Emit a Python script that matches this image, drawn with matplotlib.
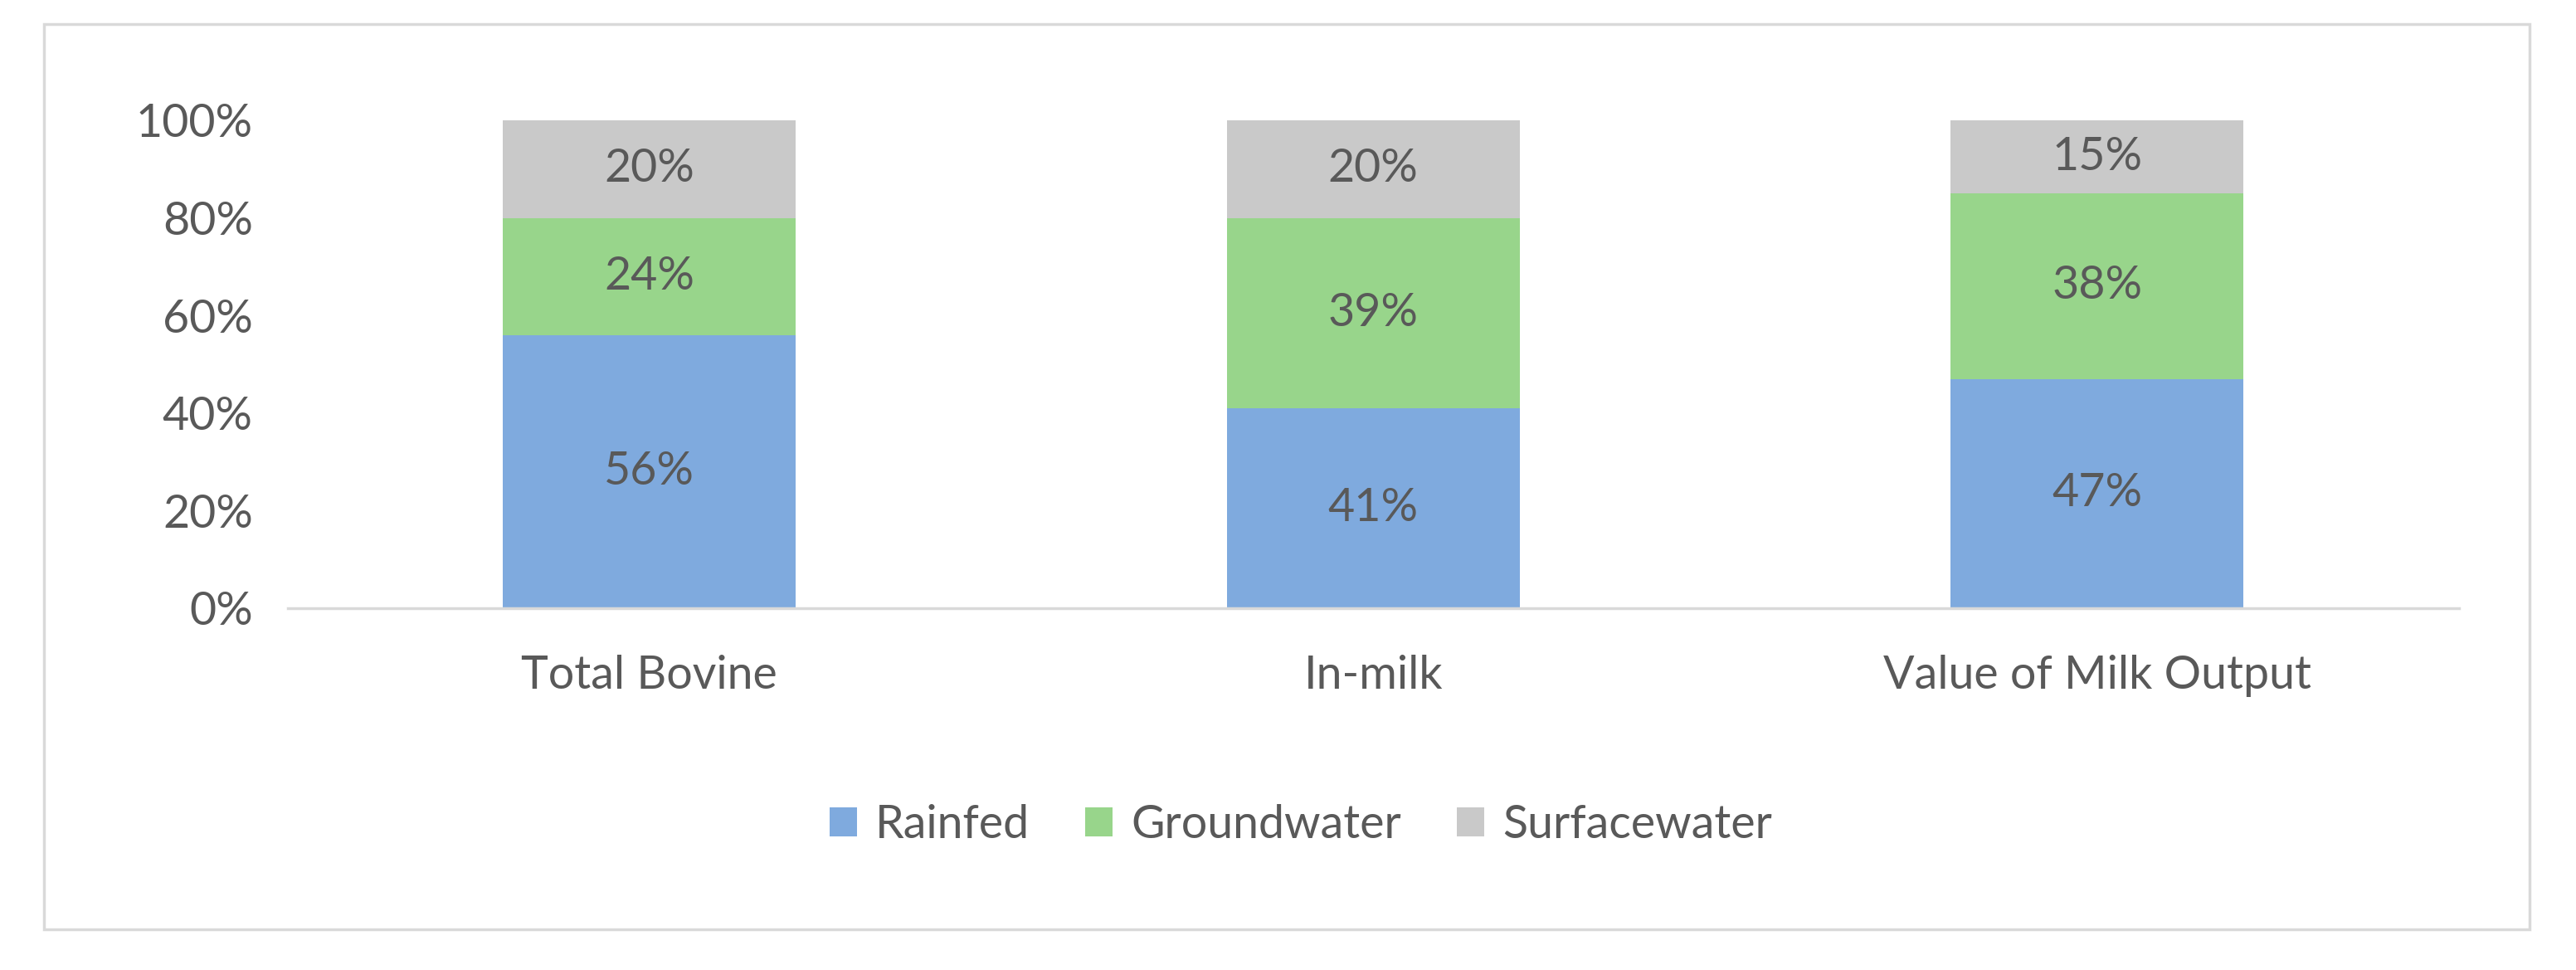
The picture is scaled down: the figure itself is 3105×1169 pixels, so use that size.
import matplotlib

matplotlib.use("Agg")
import matplotlib.pyplot as plt
from matplotlib.patches import Rectangle
import numpy as np

categories = ["Total Bovine", "In-milk", "Value of Milk Output"]
series_names = ["Rainfed", "Groundwater", "Surfacewater"]
rainfed = [56, 41, 47]
groundwater = [24, 39, 38]
surfacewater = [20, 20, 15]
yticks = [0, 20, 40, 60, 80, 100]

colors = ["#7FAADE", "#98D58B", "#C9C9C9"]
text_color = "#595959"
plt.rcParams["font.family"] = ["Lato", "DejaVu Sans"]

fig = plt.figure(figsize=(31.05, 11.69), dpi=100)
fig.patches.append(Rectangle((0.017, 0.042), 0.965, 0.933, transform=fig.transFigure,
                             fill=False, edgecolor="#D9D9D9", linewidth=2.5))
ax = fig.add_axes([0.1116, 0.373, 0.843, 0.503])

x = np.arange(len(categories))
bottom = np.zeros(len(categories))
for name, vals, c in zip(series_names, [rainfed, groundwater, surfacewater], colors):
    vals = np.array(vals, dtype=float)
    ax.bar(x, vals, 0.405, bottom=bottom, color=c, label=name)
    for xi, b, v in zip(x, bottom, vals):
        ax.text(xi, b + v / 2, f"{v:.0f}%", ha="center", va="center",
                fontsize=40, color=text_color)
    bottom += vals

ax.set_xlim(-0.5, 2.5)
ax.set_ylim(0, 100)
ax.set_yticks(yticks)
ax.set_yticklabels([f"{t}%" for t in yticks])
ax.set_xticks(x)
ax.set_xticklabels(categories)
ax.tick_params(length=0, labelsize=40, colors=text_color)
ax.tick_params(axis="x", pad=40)
ax.tick_params(axis="y", pad=30)
for s in ["top", "right", "left"]:
    ax.spines[s].set_visible(False)
ax.spines["bottom"].set_color("#D9D9D9")
ax.spines["bottom"].set_linewidth(2.5)

fig.legend(loc="center", bbox_to_anchor=(0.505, 0.149), ncol=3, frameon=False,
           fontsize=40, labelcolor=text_color, handlelength=0.6, handleheight=0.6,
           columnspacing=1.2, handletextpad=0.4)

fig.savefig("out.png", dpi=100)
